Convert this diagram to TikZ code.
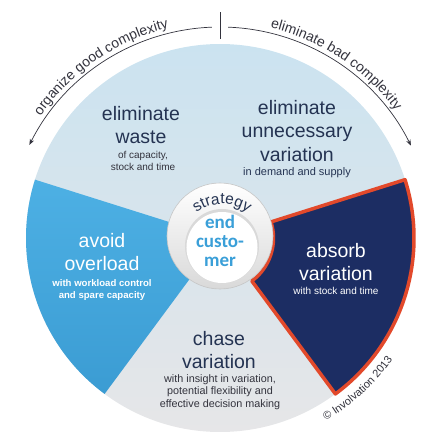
\documentclass[tikz,border=0pt]{standalone}
\usepackage{fontspec}
\setmainfont{Liberation Sans}
\newfontfamily\custfont{Carlito}
\usetikzlibrary{arrows.meta,decorations.text}

\definecolor{discblue}{HTML}{CBE3F0}
\definecolor{midgray}{HTML}{D5DEE4}
\definecolor{discgray}{HTML}{E6E6E8}
\definecolor{skyblue}{HTML}{4DB0E4}
\definecolor{skybluedark}{HTML}{3B9CD3}
\definecolor{navyfill}{HTML}{1C2D63}
\definecolor{navyrim}{HTML}{E2492B}
\definecolor{labelnavy}{HTML}{243352}
\definecolor{notegray}{HTML}{33333D}
\definecolor{custblue}{HTML}{3A9FD8}

\tikzset{
  bigtxt/.style={font=\fontsize{19.5}{23.5}\selectfont, align=center, inner sep=0pt},
  smalltxt/.style={font=\fontsize{10}{11.5}\selectfont, align=center, inner sep=0pt},
  arcline/.style={draw=notegray, line width=0.7pt, -{Stealth[length=6pt,width=4.5pt]}},
  arctext/.style={decorate, decoration={text along path, text align=center, text color=notegray, text={#1}}}
}

\begin{document}
\begin{tikzpicture}[x=1pt,y=1pt]
  \useasboundingbox (-220,-209) rectangle (227,238);
  \coordinate (hub) at (0,-2);

  % disc and the two coloured sectors
  \shade[top color=discblue, middle color=midgray, bottom color=discgray] (0,0) circle (194);
  \shade[top color=skyblue, bottom color=skybluedark] (0,0) -- (162.5:194) arc (162.5:233.5:194) -- cycle;
  \fill[navyfill] (-53.5:53.5) -- (-53.5:194) arc (-53.5:17.5:194) -- (17.5:53.5) arc (17.5:-53.5:53.5) -- cycle;
  \draw[navyrim, line width=3.5, line join=round] (-53.5:53.5) -- (-53.5:194) arc (-53.5:17.5:194) -- (17.5:53.5) arc (17.5:-53.5:53.5) -- cycle;

  % strategy ring
  \shade[top color=white, bottom color=gray!30] (0,2) circle (53);
  \draw[gray!45, line width=0.6] (0,2) circle (53);
  \fill[gray!30] (2,-8) circle (37);
  \fill[white] (2,-9.5) circle (35.5);
  \path[arctext={|\fontsize{15.5}{15.5}\selectfont|strategy}, decoration={text color=labelnavy}] (2,-8) ++(132:42) arc (132:48:42);
  \node[font=\custfont\bfseries\fontsize{19}{19}\selectfont, text=custblue, align=center, inner sep=0pt] (endc) at (0,-3) {end\\custo-\\mer};

  % labels
  \node[bigtxt, text=labelnavy] (wasteT) at (-79,113) {eliminate\\waste};
  \node[smalltxt, text=notegray] (wasteS) at (-77,77) {of capacity,\\stock and time};
  \node[bigtxt, text=labelnavy] (varT) at (77,107) {eliminate\\unnecessary\\variation};
  \node[smalltxt, font=\fontsize{11}{12}\selectfont, text=labelnavy] (varS) at (77,65) {in demand and supply};
  \node[bigtxt, text=white] (overT) at (-118,-14) {avoid\\overload};
  \node[smalltxt, font=\bfseries\fontsize{9.6}{12}\selectfont, text=white] (overS) at (-118,-52) {with workload control\\and spare capacity};
  \node[bigtxt, text=white] (absT) at (116,-24) {absorb\\variation};
  \node[smalltxt, text=white] (absS) at (116,-53) {with stock and time};
  \node[bigtxt, text=labelnavy] (chaseT) at (-1,-112) {chase\\variation};
  \node[smalltxt, font=\fontsize{10.8}{12.5}\selectfont, text=notegray] (chaseS) at (0,-154) {with insight in variation,\\potential flexibility and\\effective decision making};

  % complexity arcs
  \draw[notegray, line width=1] (0.5,199) -- (0.5,226);
  \draw[arcline] (hub) ++(92.2:213) arc (92.2:153.5:213);
  \draw[arcline] (hub) ++(87.8:213) arc (87.8:26.3:213);
  \path[arctext={|\fontsize{14}{14}\selectfont|organize good complexity}] (hub) ++(146:218) arc (146:103:218);
  \path[arctext={|\fontsize{14}{14}\selectfont|eliminate bad complexity}] (hub) ++(77:218) arc (77:36:218);
  \path[arctext={|\fontsize{11}{11}\selectfont|© Involvation 2013}] (0,0) ++(-62:211) arc (-62:-33:211);
\end{tikzpicture}
\end{document}
